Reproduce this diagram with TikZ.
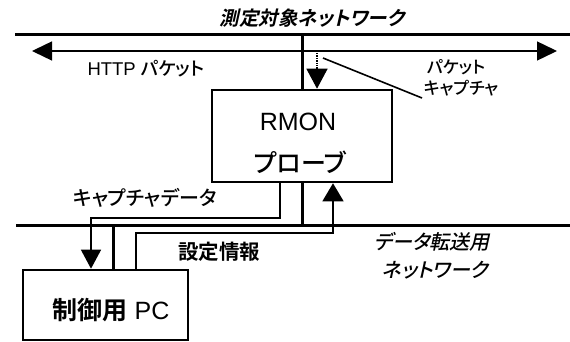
\documentclass[tikz,border=0pt]{standalone}
\usepackage{fontspec}
\usetikzlibrary{arrows.meta}
\setmainfont{Liberation Sans}
\newfontfamily\jp[RawFeature=+palt]{Noto Sans CJK JP Medium}
\newfontfamily\jpb[RawFeature=+palt]{Noto Sans CJK JP Bold}
\newfontfamily\jpit[RawFeature=+palt,FakeSlant=0.22]{Noto Sans CJK JP Bold}
\newfontfamily\jpmit[RawFeature=+palt,FakeSlant=0.22]{Noto Sans CJK JP Medium}
\newcommand\fsz[1]{\fontsize{#1}{#1}\selectfont}
\begin{document}
\begin{tikzpicture}[x=1pt,y=-1pt,
  net/.style={line width=3pt},
  wire/.style={line width=1.4pt},
  boxnode/.style={draw, line width=2.6pt, inner sep=0pt},
  tipdown/.style={-{Triangle[length=19pt,width=20pt]}},
  txt/.style={inner sep=0pt}]
\useasboundingbox (0,0) rectangle (570,342);
% network lines
\coordinate (topL) at (15,35);
\coordinate (topR) at (570,35);
\coordinate (botL) at (16,225);
\coordinate (botR) at (570,225);
\draw[net] (topL) -- (topR);
\draw[net] (botL) -- (botR);
% boxes
\node[boxnode, minimum width=180pt, minimum height=92pt] (rmon) at (302,136) {};
\node[boxnode, minimum width=165pt, minimum height=70pt] (pc) at (105.5,305) {};
% texts
\node[txt, font=\jpit\fsz{19.5}] (title) at (312,18) {測定対象ネットワーク};
\node[txt, font=\fsz{18.5}] (http) at (146,69) {HTTP {\jp パケット}};
\node[txt, font=\jp\fsz{17}] (cap1) at (456,67) {パケット};
\node[txt, font=\jp\fsz{17}] (cap2) at (461,88) {キャプチャ};
\node[txt, font=\fsz{25}] (rmon1) at (298,122) {RMON};
\node[txt, font=\jp\fsz{25}] (rmon2) at (300,162) {プローブ};
\node[txt, font=\jp\fsz{20}] (cdata) at (145,198) {キャプチャデータ};
\node[txt, font=\jpb\fsz{20.5}] (sinfo) at (219,252) {設定情報};
\node[txt, font=\jpmit\fsz{20}] (dnet1) at (432,242) {データ転送用};
\node[txt, font=\jpmit\fsz{20}] (dnet2) at (435,270) {ネットワーク};
\node[txt, font=\fsz{25}] (pclbl) at (111,310) {{\jpb 制御用} PC};
% HTTP packet arrow
\coordinate (httpL) at (32,51);
\coordinate (httpR) at (557,51);
\draw[wire, {Triangle[length=20pt,width=19pt]}-{Triangle[length=20pt,width=19pt]}] (httpL) -- (httpR);
% top link
\draw[net] (rmon.north |- topL) -- (rmon.north);
% capture
\coordinate (capS) at (317,53);
\draw[wire, densely dotted, -{Triangle[length=20pt,width=21pt]}] (capS) -- (capS |- rmon.north);
\coordinate (pp1) at (323,58);
\coordinate (pp2) at (422,98);
\draw[line width=1.6pt] (pp1) -- (pp2);
% lower links
\draw[net] (rmon.south) -- (rmon.south |- botL);
\coordinate (pcv) at (113,225);
\draw[net] (pcv) -- (pcv |- pc.north);
\coordinate (cd1) at (280,218);
\coordinate (cd2) at (91,218);
\draw[wire, tipdown] (rmon.south -| cd1) -- (cd1) -- (cd2) -- (cd2 |- pc.north);
\coordinate (si1) at (136,233);
\coordinate (si2) at (333,233);
\draw[wire, -{Triangle[length=18pt,width=21pt]}] (si1 |- pc.north) -- (si1) -- (si2) -- (si2 |- rmon.south);
\end{tikzpicture}
\end{document}
